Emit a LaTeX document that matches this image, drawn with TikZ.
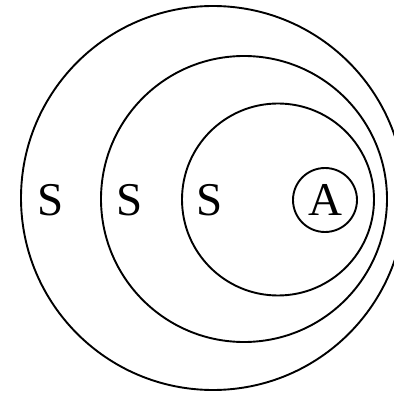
\documentclass[tikz,border=0pt]{standalone}
\usepackage{fontspec}
\setmainfont{Liberation Serif}
\usetikzlibrary{positioning}

\begin{document}
\begin{tikzpicture}[x=1pt,y=-1pt,
          ring/.style={draw,line width=1.9pt},
          lbl/.style={inner sep=0pt,font=\fontsize{47}{52}\selectfont}]
        \useasboundingbox (0,0) rectangle (394,393);
        \clip (0,0) rectangle (394,393);
        \draw[ring] (213,198) circle[radius=192];
        \draw[ring] (244,199) circle[radius=143];
        \draw[ring] (278,199.5) circle[radius=96];
        \node[ring,circle,minimum size=64pt,inner sep=0pt] (acirc) at (325,200) {};
        \node[lbl] (s1) at (51,200) {S};
        \node[lbl] (s2) at (130,200) {S};
        \node[lbl] (s3) at (210,200) {S};
        \node[lbl] (a) at (acirc) {A};
      \end{tikzpicture}
\end{document}
